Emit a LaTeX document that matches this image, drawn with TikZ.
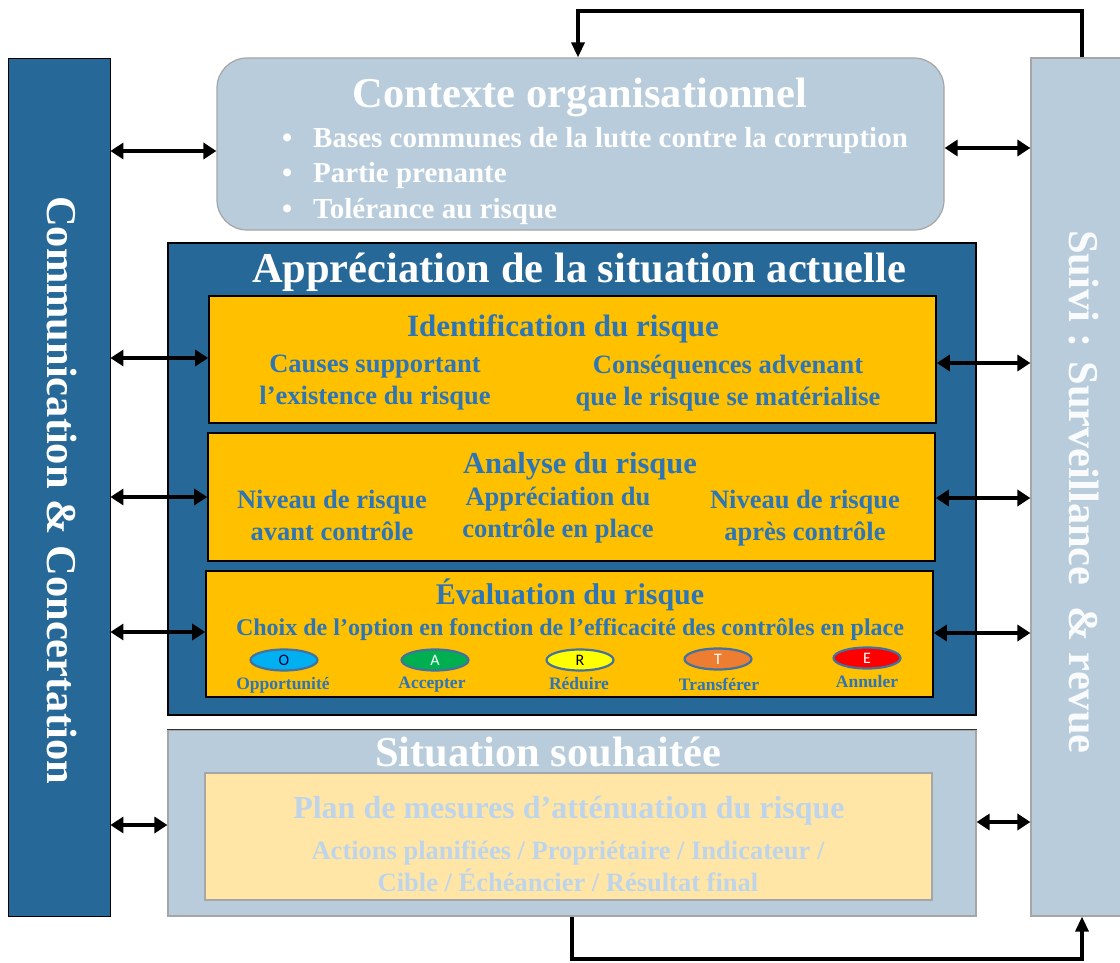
\documentclass[tikz,border=0pt]{standalone}
\usepackage{fontspec}
\setmainfont{Liberation Serif}
\newfontfamily\lettersans{Carlito}
\usetikzlibrary{arrows.meta,shapes.geometric}

\definecolor{deepblue}{RGB}{38,104,152}
\definecolor{paleblue}{RGB}{184,204,219}
\definecolor{gold}{RGB}{255,192,0}
\definecolor{paleyellow}{RGB}{255,230,166}
\definecolor{textblue}{RGB}{46,117,182}
\definecolor{fadedblue}{RGB}{190,212,235}
\definecolor{rimgray}{RGB}{166,166,166}
\definecolor{ovalrim}{RGB}{68,114,160}
\definecolor{optO}{RGB}{0,176,240}
\definecolor{optA}{RGB}{0,176,80}
\definecolor{optR}{RGB}{255,255,0}
\definecolor{optT}{RGB}{237,125,49}
\definecolor{optE}{RGB}{255,0,0}

\tikzset{
  panel/.style={rectangle, inner sep=0pt, line width=1.2pt},
  goldbox/.style={panel, fill=gold, draw=black, line width=1.6pt, minimum width=727pt},
  label/.style={inner sep=0pt, font=\bfseries, align=center},
  biarrow/.style={line width=3.4pt, {Triangle[length=13pt,width=16pt]}-{Triangle[length=13pt,width=16pt]}},
  loopline/.style={line width=3.4pt, -{Triangle[length=15pt,width=13pt]}},
  option/.style={ellipse, minimum width=67pt, minimum height=21pt, inner sep=0pt,
    draw=ovalrim, line width=2.2pt, font=\lettersans\fontsize{16}{16}\selectfont},
  optlabel/.style={label, text=textblue, font=\bfseries\fontsize{17.5}{17.5}\selectfont},
  big/.style={font=\bfseries\fontsize{42.5}{42.5}\selectfont},
  twoline/.style={label, text=textblue, font=\bfseries\fontsize{26.5}{32}\selectfont}
}

\begin{document}
\begin{tikzpicture}[x=1pt, y=-1pt]
\useasboundingbox (0,0) rectangle (1120,963);

% side bars
\node[panel, fill=deepblue, draw=black, line width=0.8pt, minimum width=102pt, minimum height=858pt] (comm) at (59,487) {};
\node[panel, fill=paleblue, draw=rimgray, minimum width=102pt, minimum height=858pt] (suivi) at (1082,487) {};
\node[label, text=white, rotate=-90, big] (commtxt) at (62,490) {Communication \& Concertation};
\node[label, text=white!92!paleblue, rotate=-90, big] (suivitxt) at (1084,492) {Suivi : Surveillance\ \ \& revue};

% organisational context
\node[panel, fill=paleblue, draw=rimgray, rounded corners=30pt, minimum width=727pt, minimum height=172pt] (ctx) at (580.5,144) {};
\node[label, text=white, big] (ctxtitle) at (580,97) {Contexte organisationnel};
\foreach \y/\t [count=\i] in {141/Bases communes de la lutte contre la corruption, 176/Partie prenante, 212/Tolérance au risque}{
  \node[label, text=white, anchor=west, font=\bfseries\fontsize{29}{29}\selectfont] (bullet\i) at (282,\y) {\makebox[31pt][l]{•}\t};
}

% current situation
\node[panel, fill=deepblue, draw=black, minimum width=808pt, minimum height=472pt] (appr) at (572,479) {};
\node[label, text=white, big] (apprtitle) at (579,272) {Appréciation de la situation actuelle};

\node[goldbox, minimum height=127pt] (ident) at (572.5,359.5) {};
\node[label, text=textblue, font=\bfseries\fontsize{31}{31}\selectfont] (identtitle) at (563,329) {Identification du risque};
\node[twoline] (causes) at (375,383) {Causes supportant\\l’existence du risque};
\node[twoline] (conseq) at (728,383) {Conséquences advenant\\que le risque se matérialise};

\node[goldbox, minimum height=128pt] (anal) at (571.5,497) {};
\node[label, text=textblue, font=\bfseries\fontsize{30.5}{30.5}\selectfont] (analtitle) at (580,466) {Analyse du risque};
\node[twoline] (avant) at (332,515) {Niveau de risque\\avant contrôle};
\node[twoline] (controle) at (558,515) {Appréciation du\\contrôle en place};
\node[twoline] (apres) at (805,518) {Niveau de risque\\après contrôle};

\node[goldbox, minimum height=126pt] (eval) at (569.5,634) {};
\node[label, text=textblue, font=\bfseries\fontsize{30}{30}\selectfont] (evaltitle) at (570,595) {Évaluation du risque};
\node[label, text=textblue, font=\bfseries\fontsize{24}{24}\selectfont] (choix) at (570,630) {Choix de l’option en fonction de l’efficacité des contrôles en place};

\node[option, fill=optO, text=black!75!blue] (optO) at (284,660) {O};
\node[option, fill=optA, text=white] (optA) at (435,660) {A};
\node[option, fill=optR, text=black] (optR) at (580,660) {R};
\node[option, fill=optT, text=white] (optT) at (718,659) {T};
\node[option, fill=optE, text=white] (optE) at (867,658) {E};
\node[optlabel] (labO) at (283,685) {Opportunité};
\node[optlabel] (labA) at (432,685) {Accepter};
\node[optlabel] (labR) at (579,684) {Réduire};
\node[optlabel] (labT) at (719,684) {Transférer};
\node[optlabel] (labE) at (867,682) {Annuler};

% desired situation
\node[panel, fill=paleblue, draw=rimgray, minimum width=808pt, minimum height=186pt] (sit) at (572,823) {};
\draw[line width=1.2pt, black!80] (sit.north west) -- (sit.north east);
\node[label, text=white, big] (sittitle) at (548,752) {Situation souhaitée};
\node[panel, fill=paleyellow, draw=rimgray, minimum width=727pt, minimum height=127pt] (plan) at (568.5,836.5) {};
\node[label, text=fadedblue, font=\bfseries\fontsize{32}{32}\selectfont] (plantitle) at (569,811) {Plan de mesures d’atténuation du risque};
\node[label, text=fadedblue, font=\bfseries\fontsize{26.5}{32}\selectfont] (actions) at (568,866) {Actions planifiées / Propriétaire / Indicateur /\\Cible / Échéancier / Résultat final};

% two-way links to the side bars
\draw[biarrow] (comm.east |- 0,151) -- (ctx.west |- 0,151);
\draw[biarrow] (comm.east |- 0,358) -- (ident.west |- 0,358);
\draw[biarrow] (comm.east |- 0,497) -- (anal.west |- 0,497);
\draw[biarrow] (comm.east |- 0,632) -- (eval.west |- 0,632);
\draw[biarrow] (comm.east |- 0,825) -- (sit.west |- 0,825);

\draw[biarrow] (ctx.east |- 0,148) -- (suivi.west |- 0,148);
\draw[biarrow] (ident.east |- 0,363) -- (suivi.west |- 0,363);
\draw[biarrow] (anal.east |- 0,498) -- (suivi.west |- 0,498);
\draw[biarrow] (eval.east |- 0,633) -- (suivi.west |- 0,633);
\draw[biarrow] (sit.east |- 0,822) -- (suivi.west |- 0,822);

% feedback loops
\draw[loopline] (suivi.north) -- (suivi.north |- 0,11) -| (ctx.north -| 578,0);
\draw[loopline] (sit.south) -- (sit.south |- 0,959) -| (suivi.south);
\end{tikzpicture}
\end{document}
